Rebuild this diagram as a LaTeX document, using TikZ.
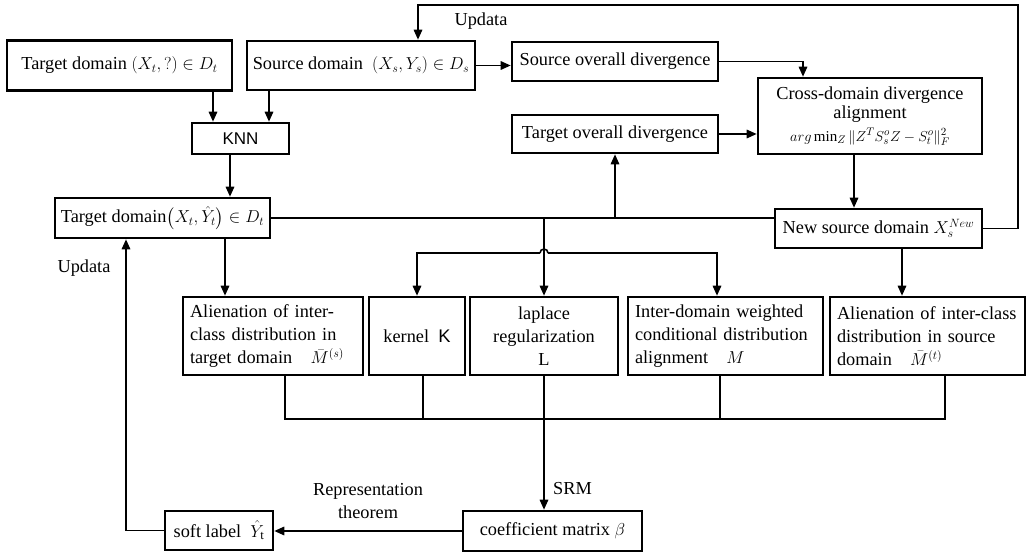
\documentclass[tikz,border=0pt]{standalone}
\usepackage{amsmath}
\usepackage{amssymb}
\usepackage{fontspec}
\setmainfont{Liberation Serif}
\setsansfont{Liberation Sans}
\usetikzlibrary{arrows.meta, calc}
\tikzset{
  caja/.style    = {draw, black, line width=2.6pt, inner xsep=6pt, inner ysep=2pt, align=center},
  cajatxt/.style = {caja, inner xsep=7pt, align=left},
  flecha/.style  = {-{Triangle[length=10pt, width=8.5pt]}, black, line width=1.6pt},
  linea/.style   = {black, line width=1.6pt},
  rotulo/.style  = {inner sep=0pt, align=center}
}

\begin{document}
\begin{tikzpicture}[x=1pt, y=-1pt, font=\fontsize{18.3}{23}\selectfont]
  \useasboundingbox (0,0) rectangle (1028,553);

  % fila superior
  \node[caja, minimum width=225pt, minimum height=50pt] (tdom) at (119.5,65.5) {Target domain $(X_t,?)\in D_t$};
  \node[caja, minimum width=224pt, minimum height=49pt] (sdom) at (361,65.5) {Source domain\ \ $(X_s,Y_s)\in D_s$};
  \node[caja, minimum width=206pt, minimum height=39pt] (sod) at (615,61.5) {Source overall divergence};
  \node[caja, minimum width=206pt, minimum height=38pt] (tod) at (615,134) {Target overall divergence};
  \node[caja, minimum width=224pt, minimum height=76pt, font=\fontsize{18.3}{19.5}\selectfont] (cda) at (870,116)
    {Cross-domain divergence\\alignment\\[3pt]{\fontsize{15}{15}\selectfont $arg\min\nolimits_Z \|Z^T S_s^o Z-S_t^o\|_F^2$}};
  \node[caja, minimum width=97pt, minimum height=31pt, font=\fontsize{17}{20}\sffamily] (knn) at (240.5,138.5) {KNN};

  % fila media
  \node[caja, minimum width=209pt, minimum height=40pt] (tdom2) at (162.5,218) {Target domain$\left(X_t,\hat{Y}_t\right)\in D_t$};
  \node[caja, minimum width=207pt, minimum height=39pt] (nsd) at (878.5,228.5) {New source domain $X_s^{New}$};

  % cajas de terminos
  \node[cajatxt, text width=166pt, minimum height=78pt] (alt) at (273,336)
    {Alienation of inter-\\class distribution in\\target domain\ \ \ $\bar{M}^{(s)}$};
  \node[caja, minimum width=96pt, minimum height=78pt] (ker) at (417,336) {kernel\ \ \textsf{K}};
  \node[caja, text width=136pt, minimum height=78pt] (lap) at (544,336) {laplace\\regularization\\L};
  \node[cajatxt, text width=181pt, minimum height=78pt] (idw) at (725.5,336)
    {Inter-domain weighted\\conditional distribution\\alignment\ \ \ $M$};
  \node[cajatxt, text width=181pt, minimum height=78pt] (als) at (927.5,336)
    {Alienation of inter-class\\distribution in source\\domain\ \ \ $\bar{M}^{(t)}$};

  % fila inferior
  \node[caja, minimum width=179pt, minimum height=40pt] (coef) at (552.5,531) {coefficient matrix $\beta$};
  \node[caja, minimum width=108pt, minimum height=39pt] (soft) at (219,530.5) {soft label\ \ $\hat{Y}_{\mathrm{t}}$};

  % puntos auxiliares
  \coordinate (k1) at ([xshift=-27.5pt]knn.north);
  \coordinate (k2) at ([xshift=28.5pt]knn.north);
  \coordinate (k3) at ([xshift=-10.5pt]knn.south);
  \coordinate (c1) at ([xshift=-67pt]cda.north);
  \coordinate (c2) at ([xshift=-16pt]cda.south);
  \coordinate (n1) at ([xshift=23.5pt]nsd.south);
  \coordinate (t2) at ([xshift=62.5pt]tdom2.south);
  \coordinate (u1) at ([xshift=57pt]sdom.north);
  \coordinate (u2) at ([xshift=-36.5pt]tdom2.south);
  \coordinate (i1) at ([xshift=-8.5pt]idw.north);
  \coordinate (loopR) at (1018,5);
  \coordinate (cruce) at (lap.north |- 0,253);
  \coordinate (bus) at (945,419);

  \draw[flecha] (k1 |- tdom.south) -- (k1);
  \draw[flecha] (k2 |- sdom.south) -- (k2);
  \draw[flecha] (k3) -- (k3 |- tdom2.north);
  \draw[flecha] (sdom.east) -- (sdom.east -| sod.west);
  \draw[flecha] (sod.east) -| (c1);
  \draw[flecha] (tod.east) -- (tod.east -| cda.west);
  \draw[flecha] (c2) -- (c2 |- nsd.north);
  \draw[flecha] (nsd.east) -| (loopR) -| (u1);
  \node[rotulo] (upd1) at (481,21) {Updata};

  \draw[linea] (tdom2.east) -- (tdom2.east -| nsd.west);
  \draw[flecha] (tod.south |- tdom2.east) -- (tod.south);
  \draw[flecha] (lap.north |- tdom2.east) -- (lap.north);
  \draw[flecha] ([xshift=-4pt]cruce) -| (ker.north);
  \draw[flecha] ([xshift=4pt]cruce) -| (i1);
  \draw[linea] ([xshift=-4pt]cruce) arc[start angle=180, end angle=360, radius=4];
  \draw[flecha] (n1) -- (n1 |- als.north);
  \draw[flecha] (t2) -- (t2 |- alt.north);

  % salida comun
  \draw[linea] ([xshift=12pt]alt.south) |- (bus) -- ([xshift=17.5pt]als.south);
  \draw[linea] ([xshift=6pt]ker.south) |- (bus);
  \draw[linea] ([xshift=-5.5pt]idw.south) |- (bus);
  \draw[flecha] (lap.south) -- (lap.south |- coef.north);
  \node[rotulo, anchor=west] (srm) at (553,489) {SRM};

  \draw[flecha] (coef.west) -- (coef.west -| soft.east);
  \node[rotulo] (rep) at (368,501) {Representation\\theorem};
  \draw[flecha] (soft.west) -| (u2);
  \node[rotulo] (upd2) at (84,268) {Updata};
\end{tikzpicture}
\end{document}
